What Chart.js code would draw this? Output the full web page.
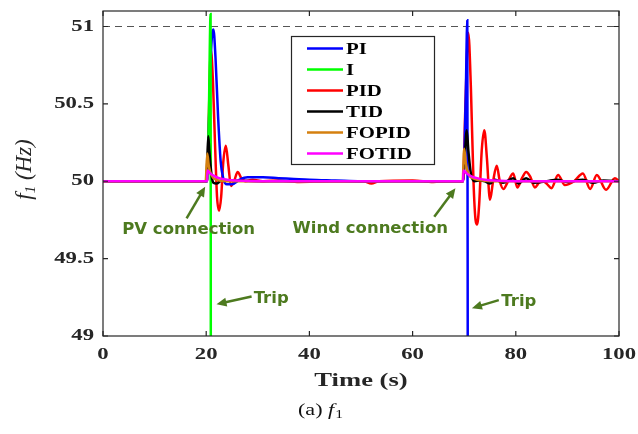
<!DOCTYPE html>
<html>
<head>
<meta charset="utf-8">
<script src="https://cdn.jsdelivr.net/npm/chart.js@4.4.1/dist/chart.umd.min.js"></script>
<style>
  body { margin: 0; background: #fff; }
  canvas { display: block; }
</style>
</head>
<body>
<canvas id="mygraph" width="638" height="434"></canvas>
<script>
// axis ticks
const xTicks = [0, 20, 40, 60, 80, 100];
const yTicks = [49, 49.5, 50, 50.5, 51];

// series names (legend order)
const names = ["PI", "I", "PID", "TID", "FOPID", "FOTID"];

// PI
const piT = [0, 20.2, 20.6, 21.0, 21.4, 21.8, 22.3, 22.8, 23.3, 24.0,
             25.0, 26.5, 28, 31, 34, 37, 40, 45, 50, 69.8,
             70.3, 70.6, 70.7];
const piF = [50, 50, 50.45, 50.88, 50.98, 50.8, 50.42, 50.13, 50.02, 49.98,
             49.98, 50.01, 50.025, 50.025, 50.02, 50.015, 50.01, 50.005, 50, 50,
             50.55, 51.04, 48.5];

// I
const iT = [0, 20.2, 20.5, 20.85, 20.9];
const iF = [50, 50, 50.4, 51.08, 48.5];

// PID
const pidT = [0, 20.2, 20.5, 20.9, 21.3, 21.7, 22.1, 22.5, 22.9, 23.3,
              23.8, 24.3, 24.8, 25.4, 26.1, 26.8, 27.6, 29, 31, 34,
              38, 44, 50.5, 52, 53.5, 60, 64, 67, 69.8, 70.2,
              70.8, 71.3, 71.8, 72.2, 72.5, 72.9, 73.4, 73.9, 74.4, 75.0,
              75.6, 76.3, 76.9, 77.6, 78.5, 79.5, 80.3, 81.2, 82.0, 82.8,
              83.7, 84.5, 85.3, 86.1, 86.9, 88.2, 89.5, 91.3, 93.0, 94.4,
              95.7, 97.5, 99.2, 100];
const pidF = [50, 50, 50.4, 50.85, 50.65, 50.25, 49.9, 49.81, 49.9, 50.12,
              50.23, 50.1, 49.97, 50.0, 50.06, 50.02, 50.0, 50.01, 50.0, 50.005,
              49.995, 50.0, 50.0, 49.985, 50.0, 50.005, 49.995, 50.0, 50.0, 50.45,
              50.96, 50.6, 50.0, 49.75, 49.72, 49.85, 50.2, 50.33, 50.15, 49.88,
              50.0, 50.1, 50.0, 49.95, 50.0, 50.05, 49.96, 50.02, 50.06, 50.03,
              49.96, 49.99, 50.0, 49.98, 49.955, 50.04, 49.975, 50.0, 50.05, 49.95,
              50.04, 49.945, 50.02, 50.0];

// TID
const tidT = [0, 20.0, 20.2, 20.4, 20.6, 21.0, 21.4, 22, 23, 25,
              30, 40, 50, 60, 69.8, 70.1, 70.5, 70.8, 71.3, 72,
              73, 74, 75, 76, 77.5, 79.5, 80.5, 82, 83.5, 86,
              88, 90, 93, 95, 97, 100];
const tidF = [50, 50, 50.12, 50.29, 50.2, 50.05, 49.99, 49.985, 50.005, 50.005,
              50.0, 50.0, 50.0, 50.0, 50.0, 50.15, 50.33, 50.2, 50.05, 50.0,
              50.005, 50.0, 49.985, 50.01, 49.99, 50.02, 49.985, 50.02, 49.99, 50.0,
              50.01, 49.995, 50.01, 49.99, 50.005, 50.0];

// FOPID
const fopidT = [0, 19.9, 20.2, 20.5, 21.0, 22.0, 24.0, 27, 69.7, 70.0, 70.3, 70.8, 72.0, 74.0, 77, 100];
const fopidF = [50, 50, 50.18, 50.1, 50.04, 50.01, 50.0, 50.0, 50.0, 50.21, 50.12, 50.05, 50.015, 50.003, 50.0, 50.0];

// FOTID
const fotidT = [0, 20.2, 20.25, 20.8, 21.5, 22.5, 24, 26, 30, 69.8, 69.85, 70.5, 71.5, 72.5, 74, 76, 80, 100];
const fotidF = [50, 50, 50.07, 50.05, 50.035, 50.02, 50.01, 50.004, 50.0, 50.0, 50.07, 50.05, 50.03, 50.02, 50.01, 50.004, 50.0, 50.0];

// 51 Hz limit
const limitT = [0, 100];
const limitF = [51, 51];

const colors = ["#0000ff", "#00ff00", "#ff0000", "#000000", "#d5800f", "#ff00ff"];
const olive = "#4d7a1f";

function pts(t, f) {
  return t.map((v, i) => ({ x: v, y: f[i] }));
}

const series = [[piT, piF], [iT, iF], [pidT, pidF], [tidT, tidF], [fopidT, fopidF], [fotidT, fotidF]];
const drawOrder = [5, 4, 6, 3, 2, 1];

const datasets = series.map((s, k) => ({
  label: names[k],
  data: pts(s[0], s[1]),
  borderColor: colors[k],
  borderWidth: 2.5,
  pointRadius: 0,
  fill: false,
  cubicInterpolationMode: "monotone",
  order: drawOrder[k]
}));
datasets.push({
  label: "limit",
  data: pts(limitT, limitF),
  borderColor: "#555555",
  borderWidth: 1.2,
  borderDash: [7, 5],
  pointRadius: 0,
  fill: false,
  order: 10
});

// annotation text + arrows, in data units
const notes = [
  { text: "PV connection", x: 16.6, y: 49.685, tail: [16.2, 49.76], head: [19.8, 49.965], align: "center" },
  { text: "Wind connection", x: 51.8, y: 49.69, tail: [64.2, 49.77], head: [68.3, 49.955], align: "center" },
  { text: "Trip", x: 29.2, y: 49.24, tail: [28.8, 49.255], head: [22.0, 49.205], align: "left" },
  { text: "Trip", x: 77.2, y: 49.22, tail: [76.7, 49.232], head: [71.5, 49.18], align: "left" }
];

function sText(ctx, str, x, y, font, sx, align) {
  ctx.save();
  ctx.font = font;
  const w = ctx.measureText(str).width * sx;
  let x0 = x;
  if (align === "center") x0 = x - w / 2;
  if (align === "right") x0 = x - w;
  ctx.translate(x0, y);
  ctx.scale(sx, 1);
  ctx.textAlign = "left";
  ctx.textBaseline = "middle";
  ctx.fillText(str, 0, 0);
  ctx.restore();
  return w;
}

function arrow(ctx, x1, y1, x2, y2) {
  const a = Math.atan2(y2 - y1, x2 - x1);
  const L = 10, W = 4.5;
  ctx.beginPath();
  ctx.moveTo(x1, y1);
  ctx.lineTo(x2 - Math.cos(a) * L * 0.8, y2 - Math.sin(a) * L * 0.8);
  ctx.stroke();
  ctx.beginPath();
  ctx.moveTo(x2, y2);
  ctx.lineTo(x2 - Math.cos(a) * L - Math.sin(a) * W, y2 - Math.sin(a) * L + Math.cos(a) * W);
  ctx.lineTo(x2 - Math.cos(a) * L + Math.sin(a) * W, y2 - Math.sin(a) * L - Math.cos(a) * W);
  ctx.closePath();
  ctx.fill();
}

const decor = {
  id: "decor",
  afterDraw(chart) {
    const ctx = chart.ctx;
    const a = chart.chartArea;
    const xs = chart.scales.x, ys = chart.scales.y;
    const dark = "#262626";

    // box + inward ticks
    ctx.save();
    ctx.strokeStyle = dark;
    ctx.lineWidth = 1.2;
    ctx.strokeRect(a.left, a.top, a.right - a.left, a.bottom - a.top);
    ctx.beginPath();
    xTicks.forEach(v => {
      const px = xs.getPixelForValue(v);
      ctx.moveTo(px, a.bottom); ctx.lineTo(px, a.bottom - 5);
      ctx.moveTo(px, a.top); ctx.lineTo(px, a.top + 5);
    });
    yTicks.forEach(v => {
      const py = ys.getPixelForValue(v);
      ctx.moveTo(a.left, py); ctx.lineTo(a.left + 5, py);
      ctx.moveTo(a.right, py); ctx.lineTo(a.right - 5, py);
    });
    ctx.stroke();

    // tick labels
    ctx.fillStyle = dark;
    const tf = 'bold 16px "Liberation Serif"';
    xTicks.forEach(v => sText(ctx, String(v), xs.getPixelForValue(v), a.bottom + 19, tf, 1.42, "center"));
    yTicks.forEach(v => sText(ctx, String(v), a.left - 9, ys.getPixelForValue(v), tf, 1.42, "right"));

    // x title
    sText(ctx, "Time (s)", (a.left + a.right) / 2, a.bottom + 45, 'bold 19px "Liberation Serif"', 1.4, "center");

    // y title: f1 (Hz), rotated
    ctx.save();
    ctx.translate(25, (a.top + a.bottom) / 2 - 4);
    ctx.rotate(-Math.PI / 2);
    ctx.textBaseline = "middle";
    ctx.textAlign = "left";
    const big = 'italic 23px "Liberation Serif"', small = 'italic 15px "Liberation Serif"';
    ctx.font = big; const w1 = ctx.measureText("f").width;
    const w3 = ctx.measureText(" (Hz)").width;
    ctx.font = small; const w2 = ctx.measureText("1").width;
    let px = -(w1 + w2 + w3) / 2;
    ctx.font = big; ctx.fillText("f", px, 0); px += w1;
    ctx.font = small; ctx.fillText("1", px, 6); px += w2;
    ctx.font = big; ctx.fillText(" (Hz)", px, 0);
    ctx.restore();

    // caption (a) f1
    ctx.fillStyle = "#111";
    const cf = '17px "Liberation Serif"', cfi = 'italic 17px "Liberation Serif"', cfs = '12px "Liberation Serif"';
    const sx = 1.3;
    ctx.font = cf; const c1 = ctx.measureText("(a) ").width * sx;
    ctx.font = cfi; const c2 = ctx.measureText("f").width * sx;
    ctx.font = cfs; const c3 = ctx.measureText("1").width * sx;
    let cx = 320 - (c1 + c2 + c3) / 2;
    sText(ctx, "(a) ", cx, 411, cf, sx, "left"); cx += c1;
    sText(ctx, "f", cx, 411, cfi, sx, "left"); cx += c2 + 1;
    sText(ctx, "1", cx, 415, cfs, sx, "left");

    // legend box
    const lx = 291.5, ly = 36.5, lw = 143, lh = 128;
    ctx.fillStyle = "#fff";
    ctx.fillRect(lx, ly, lw, lh);
    ctx.strokeStyle = dark;
    ctx.lineWidth = 1.2;
    ctx.strokeRect(lx, ly, lw, lh);
    names.forEach((n, k) => {
      const ry = 48.5 + k * 21;
      ctx.strokeStyle = colors[k];
      ctx.lineWidth = 2.5;
      ctx.beginPath();
      ctx.moveTo(307, ry); ctx.lineTo(343, ry);
      ctx.stroke();
      ctx.fillStyle = "#000";
      sText(ctx, n, 346, ry + 1, 'bold 16px "Liberation Serif"', 1.3, "left");
    });

    // annotations
    ctx.fillStyle = olive;
    ctx.strokeStyle = olive;
    ctx.lineWidth = 2.5;
    notes.forEach(n => {
      sText(ctx, n.text, xs.getPixelForValue(n.x), ys.getPixelForValue(n.y), 'bold 16.5px "DejaVu Sans"', 1, n.align);
      arrow(ctx, xs.getPixelForValue(n.tail[0]), ys.getPixelForValue(n.tail[1]),
                 xs.getPixelForValue(n.head[0]), ys.getPixelForValue(n.head[1]));
    });
    ctx.restore();
  }
};

const ctx = document.getElementById("mygraph");
const mygraph = new Chart(ctx, {
  type: "line",
  data: { datasets: datasets },
  options: {
    responsive: false,
    animation: false,
    layout: { padding: { top: 11, right: 19, left: 0, bottom: 0 } },
    plugins: { legend: { display: false }, tooltip: { enabled: false } },
    scales: {
      x: {
        type: "linear",
        min: 0,
        max: 100,
        grid: { display: false },
        border: { display: false },
        ticks: { display: false },
        afterBuildTicks: s => { s.ticks = xTicks.map(v => ({ value: v })); },
        afterFit: s => { s.height = 98; }
      },
      y: {
        type: "linear",
        min: 49,
        max: 51.1,
        grid: { display: false },
        border: { display: false },
        ticks: { display: false },
        afterBuildTicks: s => { s.ticks = yTicks.map(v => ({ value: v })); },
        afterFit: s => { s.width = 103; }
      }
    }
  },
  plugins: [decor]
});
</script>
</body>
</html>
